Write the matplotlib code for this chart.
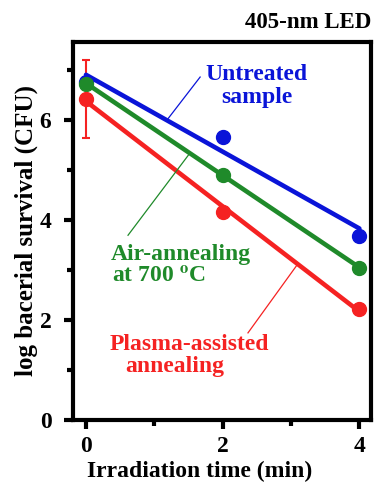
import numpy as np
import matplotlib
matplotlib.use("Agg")
import matplotlib.pyplot as plt

plt.rcParams['font.family'] = ['Liberation Serif', 'DejaVu Serif']
plt.rcParams['font.weight'] = 'bold'
plt.rcParams['mathtext.fontset'] = 'stix'

time = [0, 2, 4]
untreated = [6.75, 5.65, 3.68]
air = [6.72, 4.90, 3.04]
plasma = [6.42, 4.16, 2.22]
plasma_err = [0.78, 0, 0]

blue = '#0a14d8'
green = '#1f8a2a'
red = '#f52222'

fig = plt.figure(figsize=(3.74, 4.86), dpi=100)
ax = fig.add_axes([73/374, 1-420/486, (371-73)/374, (420-42)/486])

for y, c in [(untreated, blue), (air, green), (plasma, red)]:
    k, b = np.polyfit(time, y, 1)
    xs = np.array([0, 4])
    ax.plot(xs, k*xs + b, color=c, lw=3.3, solid_capstyle='round', zorder=2)
    ax.plot(time, y, 'o', color=c, ms=10, zorder=3)

ax.errorbar([time[0]], [plasma[0]], yerr=[plasma_err[0]], fmt='none',
            ecolor=red, elinewidth=1.5, capsize=3, capthick=1.5, zorder=1)

ax.set_xlim(-0.19, 4.17)
ax.set_ylim(0, 7.55)
ax.set_xticks([0, 2, 4])
ax.set_xticks([1, 3], minor=True)
ax.set_yticks([0, 2, 4, 6])
ax.set_yticks([1, 3, 5, 7], minor=True)
for s in ax.spines.values():
    s.set_linewidth(3)
ax.tick_params(which='major', direction='out', length=6.5, width=3, labelsize=17)
ax.tick_params(which='minor', direction='out', length=4.5, width=3)
ax.tick_params(axis='x', pad=5)
ax.tick_params(axis='y', pad=9)
for lab in ax.get_xticklabels() + ax.get_yticklabels():
    lab.set_fontweight('bold')

ax.set_xlabel('Irradiation time (min)', fontsize=17, fontweight='bold', labelpad=1)
ax.xaxis.set_label_coords(0.426, -0.108)
ax.set_ylabel('log bacerial survival (CFU)', fontsize=18, fontweight='bold', labelpad=1)

fig.text(371/374, 1-22/486, '405-nm LED', ha='right', va='center', fontsize=16.5, fontweight='bold')

ax.text(2.50, 6.90, 'Untreated', color=blue, fontsize=17, fontweight='bold', ha='center', va='center')
ax.text(2.50, 6.45, 'sample', color=blue, fontsize=17, fontweight='bold', ha='center', va='center')
ax.plot([1.19, 1.67], [6.00, 6.85], color=blue, lw=0.9)

ax.text(0.36, 3.30, 'Air-annealing', color=green, fontsize=17, fontweight='bold', ha='left', va='center')
ax.text(0.38, 2.86, 'at 700 $\\mathbf{^{o}}$C', color=green, fontsize=17, fontweight='bold', ha='left', va='center')
ax.plot([0.615, 1.52], [3.69, 5.33], color=green, lw=0.9)

ax.text(0.34, 1.50, 'Plasma-assisted', color=red, fontsize=17, fontweight='bold', ha='left', va='center')
ax.text(0.58, 1.06, 'annealing', color=red, fontsize=17, fontweight='bold', ha='left', va='center')
ax.plot([2.37, 3.09], [1.74, 3.10], color=red, lw=0.9)

fig.savefig('out.png', dpi=100)
